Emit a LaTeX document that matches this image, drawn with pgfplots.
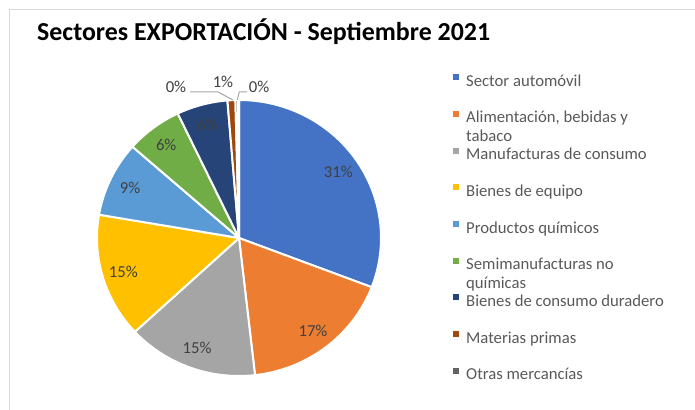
\documentclass[border=0pt]{standalone}
\usepackage{fontspec}
\setmainfont{Carlito}
\usepackage{pgfplots}
\usepackage{pgfplotstable}
\pgfplotsset{compat=1.18}
\definecolor{pie0}{HTML}{4472C4}
\definecolor{pie1}{HTML}{ED7D31}
\definecolor{pie2}{HTML}{A5A5A5}
\definecolor{pie3}{HTML}{FFC000}
\definecolor{pie4}{HTML}{5B9BD5}
\definecolor{pie5}{HTML}{70AD47}
\definecolor{pie6}{HTML}{264478}
\definecolor{pie7}{HTML}{9E480E}
\definecolor{pie8}{HTML}{636363}
\definecolor{pie9}{HTML}{997300}
\definecolor{lbltext}{HTML}{404040}
\definecolor{legtext}{HTML}{595959}
\definecolor{leader}{HTML}{A6A6A6}
\definecolor{frame}{HTML}{D9D9D9}
\tikzset{lbl/.style={font=\fontsize{16.7bp}{20bp}\selectfont, text=lbltext, inner sep=0pt}}

% share of each sector (%), in clockwise order from 12 o'clock
\pgfplotstableread{
v
30.8
17.4
14.9
14.6
8.8
6.4
5.8
0.9
0.3
0.1
}\piedata
\pgfplotstablecreatecol[create col/expr accum={\pgfmathaccuma + \thisrow{v}}{0}]{e}\piedata
\pgfplotstablecreatecol[create col/expr={\thisrow{e}-\thisrow{v}}]{s}\piedata

\begin{document}
\begin{tikzpicture}
\useasboundingbox (0,0) rectangle (695bp,410bp);
\draw[frame, line width=1.5bp] (9.5bp,0) -- (9.5bp,400.5bp) -- (695bp,400.5bp);
\node[anchor=base west, inner sep=0pt, font=\fontsize{25.9bp}{30bp}\selectfont\bfseries] at (37bp,369bp) {Sectores EXPORTACIÓN - Septiembre 2021};
\begin{axis}[
  at={(239bp,172bp)}, anchor=center,
  scale only axis, width=284bp, height=276bp,
  xmin=-1, xmax=1, ymin=-1, ymax=1,
  hide axis, clip=false,
  legend image code/.code={\fill[#1, draw=none] (0bp,2bp) rectangle (6bp,8bp);},
  legend style={
    at={(axis description cs:1.2535,1.0942)}, anchor=north west,
    draw=none, fill=none, inner sep=0pt,
    row sep=20.7bp, column sep=7bp,
    font=\fontsize{16.7bp}{19bp}\selectfont, text=legtext,
    nodes={inner sep=0pt, text height=12bp, text depth=4bp},
  },
  legend cell align=left,
  legend entries={Sector automóvil,
    {\smash{\parbox[t]{6cm}{Alimentación, bebidas y\\tabaco}}},
    Manufacturas de consumo,
    Bienes de equipo,
    Productos químicos,
    {\smash{\parbox[t]{6cm}{Semimanufacturas no\\químicas}}},
    Bienes de consumo duradero,
    Materias primas,
    Otras mercancías},
]
\pgfplotsinvokeforeach{0,...,9}{%
  \pgfplotstablegetelem{#1}{s}\of\piedata\let\sA\pgfplotsretval
  \pgfplotstablegetelem{#1}{e}\of\piedata\let\sB\pgfplotsretval
  \edef\doplot{\noexpand\addplot[fill=pie#1, draw=white, line width=2bp, line join=round, domain=\sA:\sB, samples=80] ({sin(3.6*x)},{cos(3.6*x)}) -- (axis cs:0,0) -- cycle;}%
  \doplot
}
\pgfplotsinvokeforeach{0,...,6}{%
  \pgfplotstablegetelem{#1}{s}\of\piedata\let\sA\pgfplotsretval
  \pgfplotstablegetelem{#1}{e}\of\piedata\let\sB\pgfplotsretval
  \pgfplotstablegetelem{#1}{v}\of\piedata\let\sV\pgfplotsretval
  \pgfmathsetmacro{\mx}{0.85*sin(1.8*(\sA+\sB))}%
  \pgfmathsetmacro{\my}{0.85*cos(1.8*(\sA+\sB))}%
  \pgfmathtruncatemacro{\lab}{round(\sV)}%
  \edef\donode{\noexpand\node[lbl] at (axis cs:\mx,\my) {\lab\noexpand\%};}%
  \donode
}
\addplot[forget plot, draw=leader, line width=1bp] coordinates {(-0.345,1.058) (-0.148,1.058) (-0.042,1.0)};
\addplot[forget plot, draw=leader, line width=1bp] coordinates {(0.058,1.058) (0.002,1.058) (-0.012,1.0)};
\node[lbl] at (axis cs:-0.444,1.094) {0\%};
\node[lbl] at (axis cs:-0.113,1.13) {1\%};
\node[lbl] at (axis cs:0.141,1.094) {0\%};
\end{axis}
\end{tikzpicture}
\end{document}
